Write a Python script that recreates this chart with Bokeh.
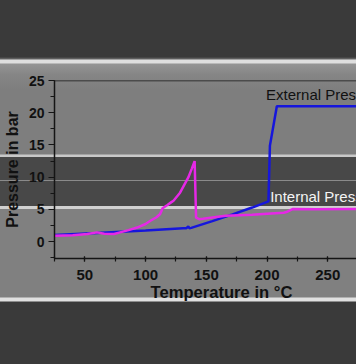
from bokeh.plotting import figure
from bokeh.models import Range1d, Span, SingleIntervalTicker, GlobalInlineStyleSheet, Title
from bokeh.core.properties import value
from bokeh.embed import file_html
from bokeh.resources import INLINE

# External pressure (blue)
temp_ext = [25, 60, 100, 131, 133.5, 135.2, 136.2, 137.6, 155, 171.6, 187.8, 201.2, 202.4, 208.1, 280]
p_ext = [1.05, 1.35, 1.75, 2.1, 2.1, 2.35, 2.1, 2.15, 3.2, 4.25, 5.3, 6.25, 14.9, 21.0, 21.0]

# Internal pressure (magenta)
temp_int = [25, 40, 52, 60, 66, 74, 79, 86, 93, 100, 104, 109, 112, 114, 118, 121, 123, 128.4,
            135.2, 138, 140.4, 141.6, 144.1, 147.3, 166, 187.8, 200, 213.7, 216, 221, 240, 280]
p_int = [0.93, 1.0, 1.2, 1.45, 1.25, 1.2, 1.45, 1.8, 2.2, 2.75, 3.25, 3.8, 4.3, 5.2, 5.7, 6.1, 6.36, 7.6,
         9.97, 11.3, 12.5, 3.72, 3.5, 3.57, 4.03, 4.19, 4.34, 4.5, 4.6, 5.07, 5.05, 5.1]

label_text = ["External Pressure", "Internal Pressure"]
label_x = [199.2, 202.6]
label_y = [24.1, 8.3]
label_color = ["#111111", "#f4f4f4"]

x_title = "Temperature in °C"
y_title = "Pressure in bar"

css = """
html {
  height: 100%;
  background: linear-gradient(to bottom,
    #3a3a3a 0px, #3a3a3a 57px, #6a6a6a 59px, #dedede 60px, #dedede 63px,
    #949494 64px, #858585 75px, #7e7e7e 90px,
    #7e7e7e 154px, #c8c8c8 155px, #c8c8c8 157px, #484848 157px,
    #484848 180px, #8a8a8a 180px, #8a8a8a 181px, #484848 181px,
    #484848 206px, #d0d0d0 206px, #d0d0d0 209px, #808080 209px,
    #808080 297px, #e0e0e0 298px, #e0e0e0 301px, #3a3a3a 302px, #3a3a3a 100%);
}
body { background: transparent; }
"""

p = figure(width=356, height=364, output_backend="svg", toolbar_location=None,
           x_range=Range1d(25, 273.7), y_range=Range1d(-2.6, 25),
           min_border_left=49, min_border_right=0, min_border_top=80, min_border_bottom=106,
           background_fill_color=None, border_fill_color=None, outline_line_color=None)
p.stylesheets = [GlobalInlineStyleSheet(css=css)]
p.grid.visible = False

p.xaxis.ticker = SingleIntervalTicker(interval=50, num_minor_ticks=2)
p.yaxis.ticker = SingleIntervalTicker(interval=5, num_minor_ticks=2)

for ax in (p.xaxis[0], p.yaxis[0]):
    ax.axis_line_color = "#151515"
    ax.axis_line_width = 1.5
    ax.major_tick_line_color = "#151515"
    ax.minor_tick_line_color = "#151515"
    ax.major_tick_line_width = 1.2
    ax.minor_tick_line_width = 1.2
    ax.major_label_text_font = "Liberation Sans"
    ax.major_label_text_font_style = "bold"
    ax.major_label_text_color = "#111111"
    ax.axis_label_text_font = "Liberation Sans"
    ax.axis_label_text_font_style = "bold"
    ax.axis_label_text_font_size = "16px"
    ax.axis_label_text_color = "#111111"

p.xaxis.major_label_text_font_size = "15px"
p.xaxis.major_tick_in = 2
p.xaxis.major_tick_out = 3
p.xaxis.minor_tick_in = 2
p.xaxis.minor_tick_out = 3
p.xaxis.major_label_standoff = 8

p.yaxis.axis_label = y_title
p.yaxis.major_label_text_font_size = "14px"
p.yaxis.major_tick_in = 0
p.yaxis.major_tick_out = 6
p.yaxis.minor_tick_in = 0
p.yaxis.minor_tick_out = 4
p.yaxis.major_label_standoff = 4
p.yaxis.axis_label_standoff = 5

# x-axis title, placed like the original (whose axis runs past the right edge)
p.add_layout(Title(text=x_title, align="left", offset=96, standoff=-3,
                   text_font="Liberation Sans", text_font_style="bold",
                   text_font_size="16.6px", text_color="#111111"), "below")

p.add_layout(Span(location=25, dimension="width", line_color="#151515", line_width=1.5))

p.line(temp_ext, p_ext, line_color="#1616dc", line_width=2.5)
p.line(temp_int, p_int, line_color="#e628e6", line_width=2.5)

p.text(x=label_x, y=label_y, text=label_text, text_color=label_color,
       text_font=value("Liberation Sans"), text_font_size="15px",
       text_baseline="top", text_align="left")

open("out.html", "w").write(file_html(p, INLINE))
